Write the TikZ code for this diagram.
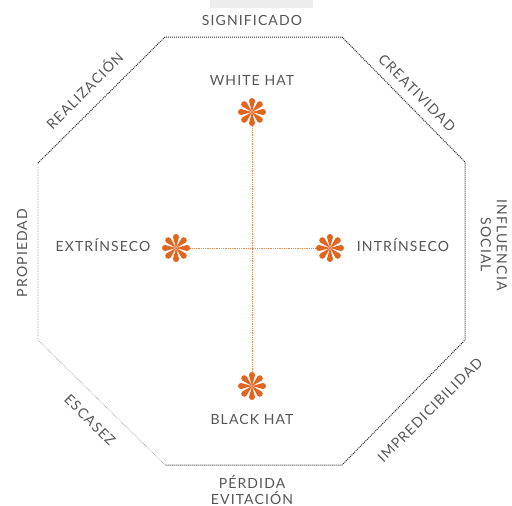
\documentclass[tikz,border=0pt]{standalone}
\usepackage{fontspec}
\setmainfont{Lato}[LetterSpace=8]
\definecolor{hatorange}{HTML}{E2651F}
\definecolor{txtgray}{HTML}{555555}
\tikzset{
  lbl/.style={text=txtgray, font=\fontsize{14}{16}\selectfont, inner sep=0pt, align=center},
  edge/.style={draw=black!85, densely dotted, line width=1pt},
  faint/.style={draw=black!45, densely dotted, line width=0.6pt},
  axis/.style={draw=hatorange!80, densely dotted, line width=0.8pt},
  pics/flower/.style={code={
    \foreach \a in {90,135,180,225,270,315,0,45}{
      \fill[hatorange, rotate=\a] (0,0) -- (11,-3) arc (-90:90:3) -- cycle;
    }
  }}
}
\begin{document}
\begin{tikzpicture}[x=1pt,y=-1pt]
\useasboundingbox (0,0) rectangle (512,506);
\fill[black!7] (210,0) rectangle (313,8);
% octagon vertices
\coordinate (v1) at (165,37);
\coordinate (v2) at (342,37);
\coordinate (v3) at (465,162);
\coordinate (v4) at (465,340);
\coordinate (v5) at (342,465);
\coordinate (v6) at (165,465);
\coordinate (v7) at (38,340);
\coordinate (v8) at (38,163);
\draw[edge] (v8) -- (v1) -- (v2) -- (v3) -- (v4) -- (v5) -- (v6);
\draw[faint] (v6) -- (v7) -- (v8);
% asterisks
\coordinate (wt) at (252,112);
\coordinate (bk) at (252,386);
\coordinate (ex) at (176,248);
\coordinate (in) at (330,248);
\draw[axis] (wt) -- (bk);
\draw[axis] (ex) -- (in);
\pic at (wt) {flower};
\pic at (bk) {flower};
\pic at (ex) {flower};
\pic at (in) {flower};
% center labels
\node[lbl] (lw) at (252,80) {WHITE HAT};
\node[lbl] (lb) at (252,419) {BLACK HAT};
\node[lbl] (le) at (103,245) {EXTRÍNSECO};
\node[lbl] (li) at (403,245) {INTRÍNSECO};
% outer labels
\node[lbl] (sig) at (252,20) {SIGNIFICADO};
\node[lbl, rotate=-45] (cre) at (417,93) {CREATIVIDAD};
\node[lbl, rotate=45] (rea) at (84,90) {REALIZACIÓN};
\node[lbl, rotate=90] (pro) at (22,253) {PROPIEDAD};
\node[lbl, rotate=-90] (inf) at (494,245) {INFLUENCIA\\SOCIAL};
\node[lbl, rotate=-45] (esc) at (90,420) {ESCASEZ};
\node[lbl, rotate=45] (imp) at (430,410) {IMPREDICIBILIDAD};
\node[lbl, text depth=0pt] (per) at (252,490) {PÉRDIDA\\EVITACIÓN};
\end{tikzpicture}
\end{document}
